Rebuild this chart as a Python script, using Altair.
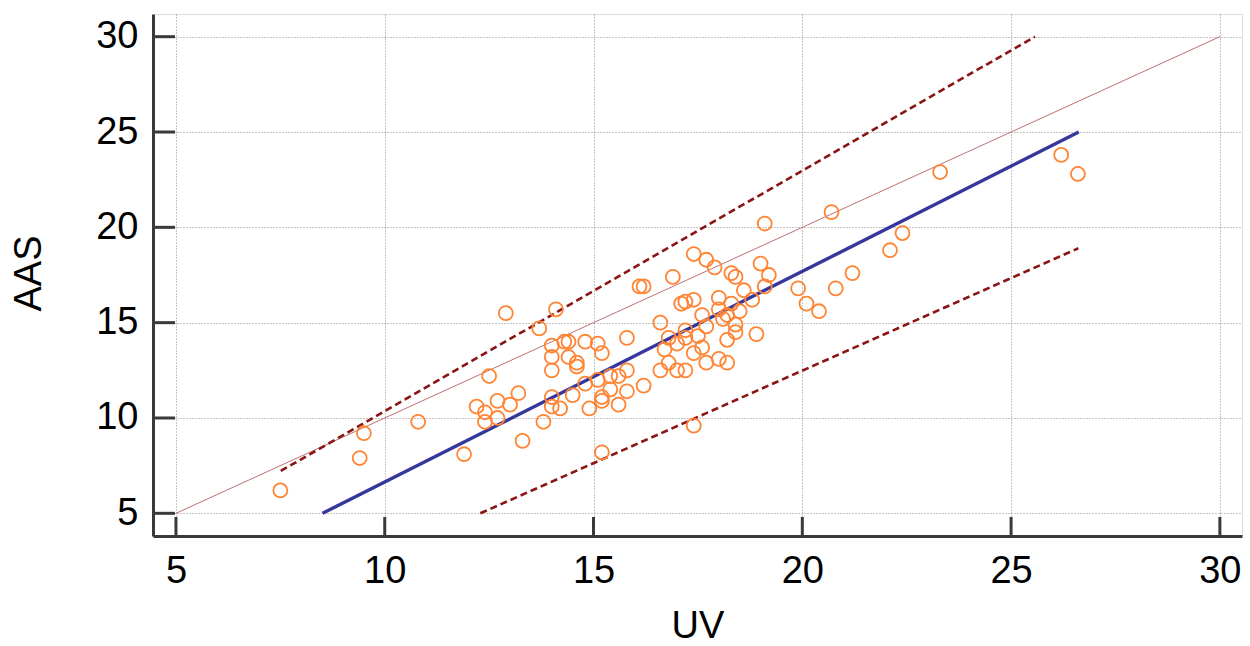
import altair as alt
import pandas as pd

# ---- data ----
uv = [7.5, 9.4, 9.5, 10.8, 11.9, 12.2, 12.4, 12.4, 12.7, 12.7,
      13.0, 13.2, 12.5, 12.9, 13.7, 13.3, 13.8, 14.0, 14.0, 14.0,
      14.0, 14.0, 14.1, 14.3, 14.4, 14.4, 14.6, 14.6, 14.8, 15.1,
      15.2, 15.8, 15.8, 15.6, 15.4, 15.1, 14.8, 15.4, 15.8, 16.2,
      15.2, 15.2, 15.6, 14.9, 14.5, 14.2, 15.2, 17.4, 17.4, 17.7,
      17.9, 16.9, 16.1, 16.2, 17.1, 17.2, 17.4, 18.0, 16.6, 17.6,
      17.7, 18.2, 18.1, 16.8, 17.0, 17.2, 17.5, 17.6, 17.4, 16.7,
      16.8, 16.6, 17.0, 17.2, 17.7, 18.0, 18.2, 18.2, 23.3, 20.7,
      19.1, 22.4, 22.1, 21.2, 20.8, 19.9, 20.1, 20.4, 18.3, 18.4,
      19.0, 19.2, 19.1, 18.6, 18.8, 18.3, 18.0, 18.5, 18.4, 18.4,
      17.2, 18.9, 26.2, 26.6]
aas = [6.2, 7.9, 9.2, 9.8, 8.1, 10.6, 10.3, 9.8, 10.9, 10.0,
       10.7, 11.3, 12.2, 15.5, 14.7, 8.8, 9.8, 13.8, 13.2, 12.5,
       11.1, 10.6, 15.7, 14.0, 14.0, 13.2, 12.9, 12.7, 14.0, 13.9,
       13.4, 14.2, 12.5, 12.2, 12.2, 12.0, 11.8, 11.5, 11.4, 11.7,
       11.1, 10.9, 10.7, 10.5, 11.2, 10.5, 8.2, 9.6, 18.6, 18.3,
       17.9, 17.4, 16.9, 16.9, 16.0, 16.1, 16.2, 16.3, 15.0, 15.4,
       14.8, 15.4, 15.2, 14.2, 13.9, 14.2, 14.3, 13.7, 13.4, 13.6,
       12.9, 12.5, 12.5, 12.5, 12.9, 13.1, 12.9, 14.1, 22.9, 20.8,
       20.2, 19.7, 18.8, 17.6, 16.8, 16.8, 16.0, 15.6, 17.6, 17.4,
       18.1, 17.5, 16.9, 16.7, 16.2, 16.0, 15.7, 15.6, 14.9, 14.5,
       14.6, 14.4, 23.8, 22.8]

tick_values = [5, 10, 15, 20, 25, 30]

identity_x = [5, 30]
identity_y = [5, 30]
regression_x = [8.51, 26.62]
regression_y = [5.0, 25.0]
upper_x = [7.51, 25.57]
upper_y = [7.22, 30.0]
lower_x = [12.29, 26.61]
lower_y = [5.0, 18.90]

# ---- tables ----
points = pd.DataFrame({"UV": uv, "AAS": aas})
ident = pd.DataFrame({"UV": identity_x, "AAS": identity_y})
reg = pd.DataFrame({"UV": regression_x, "AAS": regression_y})
bounds = pd.DataFrame({
    "UV": upper_x + lower_x,
    "AAS": upper_y + lower_y,
    "band": ["upper", "upper", "lower", "lower"],
})
ticks = pd.DataFrame({"v": tick_values})

FONT = "Liberation Sans, Arial, sans-serif"
W, H = 1089, 522

xscale = alt.Scale(domain=[4.45, 30.53], nice=False, zero=False)
yscale = alt.Scale(domain=[3.81, 31.19], nice=False, zero=False)

common_axis = dict(
    values=tick_values, grid=True, gridColor="#8a8a8a", gridDash=[1, 2],
    gridWidth=1, ticks=False, tickSize=0, domainColor="#3a3a3a",
    domainWidth=3, labelFont=FONT, labelFontSize=38, labelColor="black",
    titleFont=FONT, titleFontSize=38, titleFontWeight="normal",
    titleColor="black",
)
xaxis = alt.Axis(title="UV", labelPadding=16, titleY=109,
                 titleBaseline="bottom", **common_axis)
yaxis = alt.Axis(title="AAS", labelPadding=15, titleX=-124, titleY=259,
                 titleAngle=270, titleBaseline="middle", titleAlign="center",
                 **common_axis)

X = alt.X("UV:Q", scale=xscale, axis=xaxis)
Y = alt.Y("AAS:Q", scale=yscale, axis=yaxis)

identity_layer = alt.Chart(ident).mark_line(
    color="#b86060", strokeWidth=1, opacity=0.9
).encode(x=X, y=Y)

bounds_layer = alt.Chart(bounds).mark_line(
    color="#8b1414", strokeWidth=2.6, strokeDash=[7, 4]
).encode(x=alt.X("UV:Q", scale=xscale), y=alt.Y("AAS:Q", scale=yscale),
         detail="band:N")

reg_layer = alt.Chart(reg).mark_line(
    color="#36369c", strokeWidth=3.4
).encode(x=alt.X("UV:Q", scale=xscale), y=alt.Y("AAS:Q", scale=yscale))

point_layer = alt.Chart(points).mark_point(
    shape="circle", filled=False, color="#ff8433", strokeWidth=1.8,
    size=195, opacity=1
).encode(x=alt.X("UV:Q", scale=xscale), y=alt.Y("AAS:Q", scale=yscale))

xtick_layer = alt.Chart(ticks).mark_rule(
    color="#3a3a3a", strokeWidth=3
).encode(x=alt.X("v:Q", scale=xscale), y=alt.value(H), y2=alt.value(H - 19))

ytick_layer = alt.Chart(ticks).mark_rule(
    color="#3a3a3a", strokeWidth=3
).encode(y=alt.Y("v:Q", scale=yscale), x=alt.value(0), x2=alt.value(22))

chart = alt.layer(
    identity_layer, bounds_layer, reg_layer, point_layer,
    xtick_layer, ytick_layer
).properties(
    width=W, height=H,
    autosize=alt.AutoSizeParams(type="none"),
    padding={"left": 153, "top": 14, "right": 8, "bottom": 110},
).configure_view(stroke=None).configure(background="white")

chart.save("out.html", embed_options={"renderer": "svg", "actions": False})
